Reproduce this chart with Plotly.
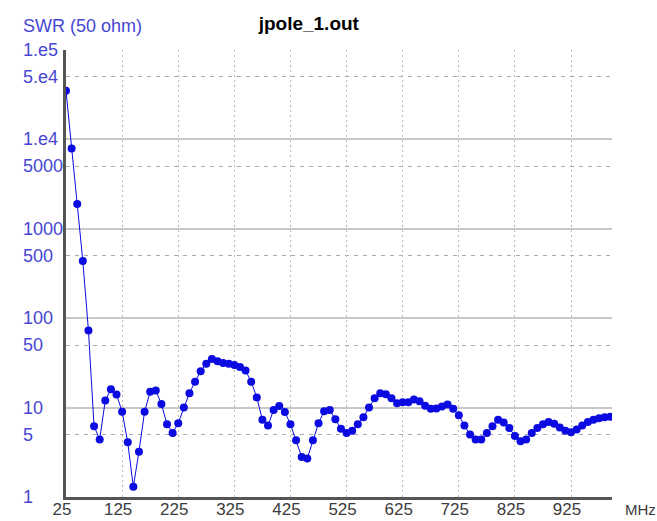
import math
import plotly.graph_objects as go

# frequency (MHz) and SWR
freq = list(range(25, 1000, 10))
swr = [35000, 7900, 1900, 435, 73, 6.2, 4.4, 12, 16, 14,
       9, 4.1, 1.3, 3.2, 9, 15, 15.5, 11, 6.5, 5.2,
       6.7, 10, 14.5, 19.5, 25.5, 31, 35, 33, 31.5, 31,
       30, 28.5, 26, 19.5, 13, 7.3, 6.3, 9.4, 10.4, 8.9,
       6.5, 4.3, 2.8, 2.7, 4.3, 6.7, 9.1, 9.4, 7.4, 5.8,
       5.2, 5.5, 6.5, 7.8, 10, 12.7, 14.5, 14.1, 12.7, 11.2,
       11.5, 11.5, 12.3, 11.8, 10.5, 9.7, 9.8, 10.3, 10.8, 9.7,
       8.2, 6.3, 5.0, 4.4, 4.4, 5.2, 6.2, 7.3, 6.8, 5.9,
       4.8, 4.2, 4.4, 5.2, 5.9, 6.5, 6.9, 6.6, 6.0, 5.5,
       5.3, 5.7, 6.3, 6.9, 7.3, 7.6, 7.8, 7.9]

x_ticks = [25, 125, 225, 325, 425, 525, 625, 725, 825, 925]
y_major = [1, 10, 100, 1000, 1e4, 1e5]
y_half = [5, 50, 500, 5000, 5e4]
y_labels = {1: "1", 5: "5", 10: "10", 50: "50", 100: "100", 500: "500",
            1000: "1000", 5000: "5000", 1e4: "1.e4", 5e4: "5.e4", 1e5: "1.e5"}

blue = "rgb(10,10,225)"
label_blue = "rgb(70,70,210)"
font = "Liberation Sans, Arial, sans-serif"

fig = go.Figure()
fig.add_trace(go.Scatter(x=freq, y=swr, mode="lines+markers",
                         line=dict(color=blue, width=1),
                         marker=dict(color=blue, size=8),
                         showlegend=False))

# y tick labels are left aligned in the original, so draw them as annotations
annots = [dict(text=t, xref="paper", yref="y", x=-0.0824, y=math.log10(v),
               xanchor="left", yanchor="middle", showarrow=False,
               font=dict(color=label_blue, size=18))
          for v, t in y_labels.items()]
annots.append(dict(text="SWR (50 ohm)", xref="paper", yref="paper", x=-0.0824, y=1.054,
                   xanchor="left", yanchor="middle", showarrow=False,
                   font=dict(color=label_blue, size=18)))
annots.append(dict(text="MHz", xref="paper", yref="paper", x=1.02, y=-0.029,
                   xanchor="left", yanchor="middle", showarrow=False,
                   font=dict(color="rgb(60,60,60)", size=15)))

fig.update_layout(
    width=657, height=521,
    margin=dict(l=66, r=45, t=50, b=24),
    plot_bgcolor="white", paper_bgcolor="white",
    font=dict(family=font, size=18),
    title=dict(text="<b>jpole_1.out</b>", x=0.47, y=0.955, xanchor="center", yanchor="middle",
               font=dict(size=19, color="black")),
    xaxis=dict(range=[25, 998], tickvals=x_ticks, ticktext=[str(v) for v in x_ticks],
               showgrid=True, gridcolor="rgb(185,185,185)", griddash="2px,3px", gridwidth=1,
               showline=True, linecolor="rgb(85,85,85)", linewidth=3, zeroline=False,
               ticks="", tickfont=dict(color="rgb(60,60,60)", size=17),
               ticklabelshift=-4, ticklabelstandoff=-5, automargin=False),
    yaxis=dict(type="log", range=[0, 5], tickvals=y_major, showticklabels=False,
               showgrid=True, gridcolor="rgb(200,200,200)", gridwidth=1.5,
               minor=dict(tickvals=y_half, showgrid=True, gridcolor="rgb(170,170,170)",
                          griddash="4px,5px", gridwidth=1, ticks=""),
               showline=True, linecolor="rgb(85,85,85)", linewidth=3, zeroline=False,
               ticks="", automargin=False),
    annotations=annots,
)

# the page body has a default 8px margin; drop it so the figure fills the window
fig.write_html("out.html", config={"displayModeBar": False},
               post_script="document.body.style.margin='0px';")
